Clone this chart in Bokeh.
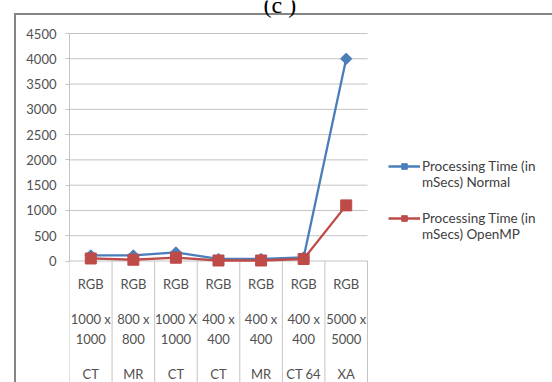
import numpy as np
from bokeh.plotting import figure
from bokeh.models import Range1d, FixedTicker, Legend, LegendItem, Label
from bokeh.core.properties import value
from bokeh.embed import file_html
from bokeh.resources import INLINE

# ---- data ----
color_modes = ["RGB", "RGB", "RGB", "RGB", "RGB", "RGB", "RGB"]
sizes = ["1000 x 1000", "800 x 800", "1000 X 1000", "400 x 400", "400 x 400", "400 x 400", "5000 x 5000"]
modalities = ["CT", "MR", "CT", "CT", "MR", "CT 64", "XA"]
normal_ms = [110, 110, 170, 40, 40, 70, 4000]
openmp_ms = [50, 25, 65, 10, 10, 40, 1100]
y_ticks = [0, 500, 1000, 1500, 2000, 2500, 3000, 3500, 4000, 4500]
legend_labels = ["Processing Time (in\nmSecs) Normal", "Processing Time (in\nmSecs) OpenMP"]
title_text = "(c )"

# ---- layout constants (pixels) ----
W, H = 552, 382
FL = 69            # left edge of the plot area
PR = 367           # right edge of the category area
Y0 = 260.5         # pixel row of value 0
YTOP = 33          # pixel row of the top tick value
YMAX = y_ticks[-1]
n = len(modalities)
ppu = (Y0 - YTOP) / YMAX
cell = (PR - FL) / n
y_start = -(H - Y0) / ppu
y_end = Y0 / ppu
x_end = (W - FL) / cell

FONT = "Lato"
GRID = "#c3c3c3"
TXT = "#505050"
BLUE = "#4a7ebb"
RED = "#be4b48"
FRAME_LINE = "#858585"

xc = np.arange(n) + 0.5
bounds = np.arange(n + 1)

chart_border = (f"linear-gradient({FRAME_LINE}, {FRAME_LINE}) 14px 13px / 2px {H}px no-repeat, "
                f"linear-gradient({FRAME_LINE}, {FRAME_LINE}) 14px 13px / {W}px 2px no-repeat, #ffffff")

p = figure(width=W, height=H, x_range=Range1d(0, x_end), y_range=Range1d(y_start, y_end),
           x_axis_type=None, output_backend="svg", toolbar_location=None,
           min_border_left=FL, min_border_right=0, min_border_top=0, min_border_bottom=0,
           styles={"background": chart_border})
p.outline_line_color = None
p.background_fill_alpha = 0
p.border_fill_alpha = 0

# y axis
p.yaxis.ticker = FixedTicker(ticks=y_ticks)
p.yaxis.bounds = (0, YMAX)
p.yaxis.axis_line_color = GRID
p.yaxis.major_tick_line_color = GRID
p.yaxis.major_tick_out = 4
p.yaxis.major_tick_in = 0
p.yaxis.minor_tick_line_color = None
p.yaxis.major_label_standoff = 9
p.yaxis.major_label_text_font = FONT
p.yaxis.major_label_text_font_size = "13px"
p.yaxis.major_label_text_color = TXT
p.ygrid.visible = False

# horizontal gridlines across the category area only
p.segment(x0=[0] * len(y_ticks), y0=y_ticks, x1=[n] * len(y_ticks), y1=y_ticks, line_color=GRID, line_width=1)
# category separators below the axis
p.segment(x0=bounds, y0=0, x1=bounds, y1=y_start, line_color=GRID, line_width=1)

# category labels
size_top = [s.rsplit(" ", 1)[0] for s in sizes]
size_bot = [s.rsplit(" ", 1)[1] for s in sizes]
for texts, off in [(color_modes, 22.8), (size_top, 57.8), (size_bot, 77.8), (modalities, 112.8)]:
    p.text(x=xc, y=[0] * n, text=texts, y_offset=off, text_align="center", text_baseline="middle",
           text_font=value(FONT), text_font_size="13px", text_color=TXT)

# series
l1 = p.line(xc, normal_ms, line_color=BLUE, line_width=2.3)
m1 = p.scatter(xc, normal_ms, marker="square", angle=np.pi / 4, size=8, fill_color=BLUE, line_color=BLUE)
l2 = p.line(xc, openmp_ms, line_color=RED, line_width=2.3)
m2 = p.scatter(xc, openmp_ms, marker="square", size=11, fill_color=RED, line_color=RED)

# legend (a leading blank line puts the key beside the first text line)
leg = Legend(items=[LegendItem(label="\n" + legend_labels[0], renderers=[l1, m1]),
                    LegendItem(label="\n" + legend_labels[1], renderers=[l2, m2])],
             location=(388 - FL, 140), orientation="vertical", padding=0, margin=0, spacing=4,
             glyph_width=32, glyph_height=14, label_standoff=2,
             label_text_font=FONT, label_text_font_size="13.5px", label_text_color="#404040",
             label_text_line_height=1.51,
             border_line_color=None, background_fill_alpha=0)
p.add_layout(leg)

# title, partly cut off at the top of the picture
p.add_layout(Label(x=263 - FL, y=H - 4.5, x_units="screen", y_units="screen", text=title_text,
                   text_align="left", text_baseline="alphabetic",
                   text_font="Liberation Serif", text_font_size="24px", text_color="black"))

open("out.html", "w").write(file_html(p, INLINE))
